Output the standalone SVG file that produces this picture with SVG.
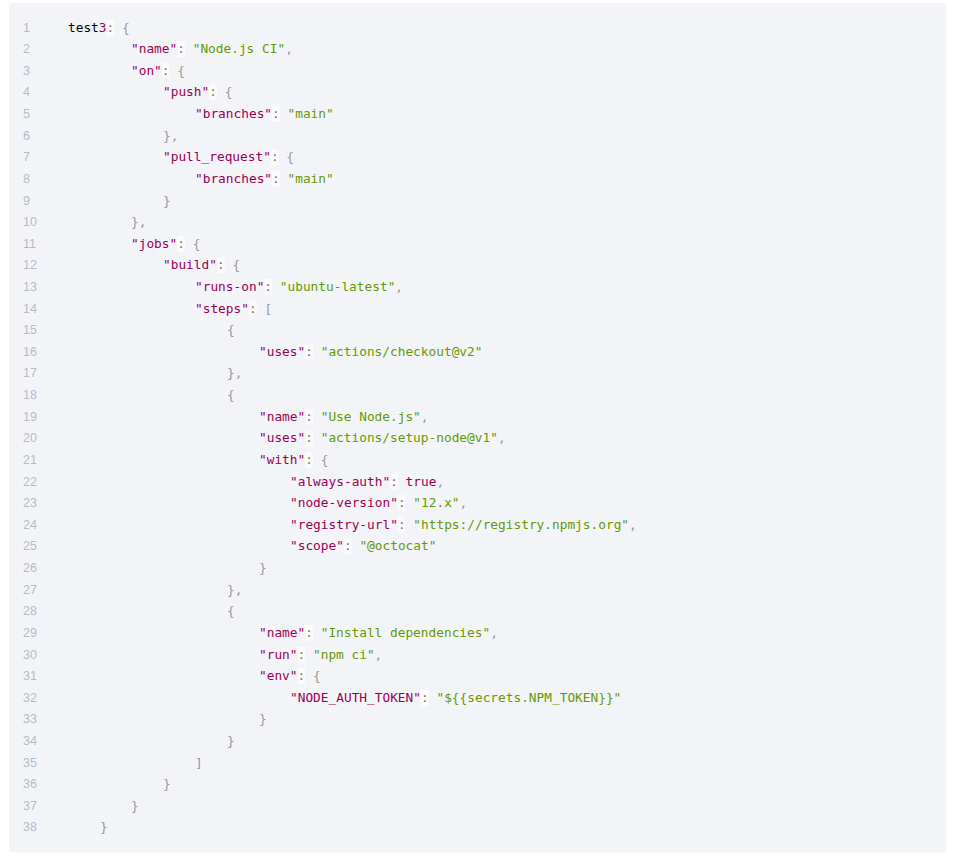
<svg xmlns="http://www.w3.org/2000/svg" width="954" height="857" viewBox="0 0 954 857">
<style>
text{font-family:"DejaVu Sans Mono","Liberation Mono",monospace;font-size:12.8px;fill:#000}
.k{fill:#990055}
.s{fill:#669900}
.p{fill:#999999}
.o{fill:#9a6e3a}
.n{fill:#990055}
.ln{font-family:"Liberation Sans Narrow","Liberation Sans",sans-serif;font-size:12.5px;fill:#b3bccb}
.cb{fill:#ffffff;fill-opacity:0.6}
</style>
<rect x="9" y="3" width="937.5" height="849.5" rx="3" fill="#f3f4f8"/>
<g id="colon-bg">
<rect class="cb" x="106.5" y="19.5" width="7.7" height="16"/>
<rect class="cb" x="177.2" y="41.1" width="7.7" height="16"/>
<rect class="cb" x="161.8" y="62.7" width="7.7" height="16"/>
<rect class="cb" x="209.2" y="84.4" width="7.7" height="16"/>
<rect class="cb" x="272" y="106" width="7.7" height="16"/>
<rect class="cb" x="270.8" y="149.2" width="7.7" height="16"/>
<rect class="cb" x="272" y="170.8" width="7.7" height="16"/>
<rect class="cb" x="177.2" y="235.7" width="7.7" height="16"/>
<rect class="cb" x="216.9" y="257.3" width="7.7" height="16"/>
<rect class="cb" x="264.3" y="278.9" width="7.7" height="16"/>
<rect class="cb" x="248.9" y="300.6" width="7.7" height="16"/>
<rect class="cb" x="305.2" y="343.8" width="7.7" height="16"/>
<rect class="cb" x="305.2" y="408.7" width="7.7" height="16"/>
<rect class="cb" x="305.2" y="430.3" width="7.7" height="16"/>
<rect class="cb" x="305.2" y="451.9" width="7.7" height="16"/>
<rect class="cb" x="390.1" y="473.5" width="7.7" height="16"/>
<rect class="cb" x="397.8" y="495.1" width="7.7" height="16"/>
<rect class="cb" x="397.8" y="516.8" width="7.7" height="16"/>
<rect class="cb" x="343.9" y="538.4" width="7.7" height="16"/>
<rect class="cb" x="305.2" y="624.9" width="7.7" height="16"/>
<rect class="cb" x="297.5" y="646.5" width="7.7" height="16"/>
<rect class="cb" x="297.5" y="668.1" width="7.7" height="16"/>
<rect class="cb" x="420.9" y="689.7" width="7.7" height="16"/>
</g>
<g id="line-numbers">
<text class="ln" x="23" y="31.5">1</text>
<text class="ln" x="23" y="53.1">2</text>
<text class="ln" x="23" y="74.7">3</text>
<text class="ln" x="23" y="96.4">4</text>
<text class="ln" x="23" y="118">5</text>
<text class="ln" x="23" y="139.6">6</text>
<text class="ln" x="23" y="161.2">7</text>
<text class="ln" x="23" y="182.8">8</text>
<text class="ln" x="23" y="204.5">9</text>
<text class="ln" x="23" y="226.1">10</text>
<text class="ln" x="23" y="247.7">11</text>
<text class="ln" x="23" y="269.3">12</text>
<text class="ln" x="23" y="290.9">13</text>
<text class="ln" x="23" y="312.6">14</text>
<text class="ln" x="23" y="334.2">15</text>
<text class="ln" x="23" y="355.8">16</text>
<text class="ln" x="23" y="377.4">17</text>
<text class="ln" x="23" y="399">18</text>
<text class="ln" x="23" y="420.7">19</text>
<text class="ln" x="23" y="442.3">20</text>
<text class="ln" x="23" y="463.9">21</text>
<text class="ln" x="23" y="485.5">22</text>
<text class="ln" x="23" y="507.1">23</text>
<text class="ln" x="23" y="528.8">24</text>
<text class="ln" x="23" y="550.4">25</text>
<text class="ln" x="23" y="572">26</text>
<text class="ln" x="23" y="593.6">27</text>
<text class="ln" x="23" y="615.2">28</text>
<text class="ln" x="23" y="636.9">29</text>
<text class="ln" x="23" y="658.5">30</text>
<text class="ln" x="23" y="680.1">31</text>
<text class="ln" x="23" y="701.7">32</text>
<text class="ln" x="23" y="723.3">33</text>
<text class="ln" x="23" y="745">34</text>
<text class="ln" x="23" y="766.6">35</text>
<text class="ln" x="23" y="788.2">36</text>
<text class="ln" x="23" y="809.8">37</text>
<text class="ln" x="23" y="831.4">38</text>
</g>
<g id="code">
<text x="68" y="31.5">test<tspan class="n">3</tspan><tspan class="o">:</tspan> <tspan class="p">{</tspan></text>
<text x="131" y="53.1"><tspan class="k">"name"</tspan><tspan class="o">:</tspan> <tspan class="s">"Node.js CI"</tspan><tspan class="p">,</tspan></text>
<text x="131" y="74.7"><tspan class="k">"on"</tspan><tspan class="o">:</tspan> <tspan class="p">{</tspan></text>
<text x="163" y="96.4"><tspan class="k">"push"</tspan><tspan class="o">:</tspan> <tspan class="p">{</tspan></text>
<text x="195" y="118"><tspan class="k">"branches"</tspan><tspan class="o">:</tspan> <tspan class="s">"main"</tspan></text>
<text x="163" y="139.6"><tspan class="p">},</tspan></text>
<text x="163" y="161.2"><tspan class="k">"pull_request"</tspan><tspan class="o">:</tspan> <tspan class="p">{</tspan></text>
<text x="195" y="182.8"><tspan class="k">"branches"</tspan><tspan class="o">:</tspan> <tspan class="s">"main"</tspan></text>
<text x="163" y="204.5"><tspan class="p">}</tspan></text>
<text x="131" y="226.1"><tspan class="p">},</tspan></text>
<text x="131" y="247.7"><tspan class="k">"jobs"</tspan><tspan class="o">:</tspan> <tspan class="p">{</tspan></text>
<text x="163" y="269.3"><tspan class="k">"build"</tspan><tspan class="o">:</tspan> <tspan class="p">{</tspan></text>
<text x="195" y="290.9"><tspan class="k">"runs-on"</tspan><tspan class="o">:</tspan> <tspan class="s">"ubuntu-latest"</tspan><tspan class="p">,</tspan></text>
<text x="195" y="312.6"><tspan class="k">"steps"</tspan><tspan class="o">:</tspan> <tspan class="p">[</tspan></text>
<text x="227" y="334.2"><tspan class="p">{</tspan></text>
<text x="259" y="355.8"><tspan class="k">"uses"</tspan><tspan class="o">:</tspan> <tspan class="s">"actions/checkout@v2"</tspan></text>
<text x="227" y="377.4"><tspan class="p">},</tspan></text>
<text x="227" y="399"><tspan class="p">{</tspan></text>
<text x="259" y="420.7"><tspan class="k">"name"</tspan><tspan class="o">:</tspan> <tspan class="s">"Use Node.js"</tspan><tspan class="p">,</tspan></text>
<text x="259" y="442.3"><tspan class="k">"uses"</tspan><tspan class="o">:</tspan> <tspan class="s">"actions/setup-node@v1"</tspan><tspan class="p">,</tspan></text>
<text x="259" y="463.9"><tspan class="k">"with"</tspan><tspan class="o">:</tspan> <tspan class="p">{</tspan></text>
<text x="290" y="485.5"><tspan class="k">"always-auth"</tspan><tspan class="o">:</tspan> <tspan class="n">true</tspan><tspan class="p">,</tspan></text>
<text x="290" y="507.1"><tspan class="k">"node-version"</tspan><tspan class="o">:</tspan> <tspan class="s">"12.x"</tspan><tspan class="p">,</tspan></text>
<text x="290" y="528.8"><tspan class="k">"registry-url"</tspan><tspan class="o">:</tspan> <tspan class="s">"https://registry.npmjs.org"</tspan><tspan class="p">,</tspan></text>
<text x="290" y="550.4"><tspan class="k">"scope"</tspan><tspan class="o">:</tspan> <tspan class="s">"@octocat"</tspan></text>
<text x="259" y="572"><tspan class="p">}</tspan></text>
<text x="227" y="593.6"><tspan class="p">},</tspan></text>
<text x="227" y="615.2"><tspan class="p">{</tspan></text>
<text x="259" y="636.9"><tspan class="k">"name"</tspan><tspan class="o">:</tspan> <tspan class="s">"Install dependencies"</tspan><tspan class="p">,</tspan></text>
<text x="259" y="658.5"><tspan class="k">"run"</tspan><tspan class="o">:</tspan> <tspan class="s">"npm ci"</tspan><tspan class="p">,</tspan></text>
<text x="259" y="680.1"><tspan class="k">"env"</tspan><tspan class="o">:</tspan> <tspan class="p">{</tspan></text>
<text x="290" y="701.7"><tspan class="k">"NODE_AUTH_TOKEN"</tspan><tspan class="o">:</tspan> <tspan class="s">"${{secrets.NPM_TOKEN}}"</tspan></text>
<text x="259" y="723.3"><tspan class="p">}</tspan></text>
<text x="227" y="745"><tspan class="p">}</tspan></text>
<text x="195" y="766.6"><tspan class="p">]</tspan></text>
<text x="163" y="788.2"><tspan class="p">}</tspan></text>
<text x="131" y="809.8"><tspan class="p">}</tspan></text>
<text x="100" y="831.4"><tspan class="p">}</tspan></text>
</g>
</svg>
